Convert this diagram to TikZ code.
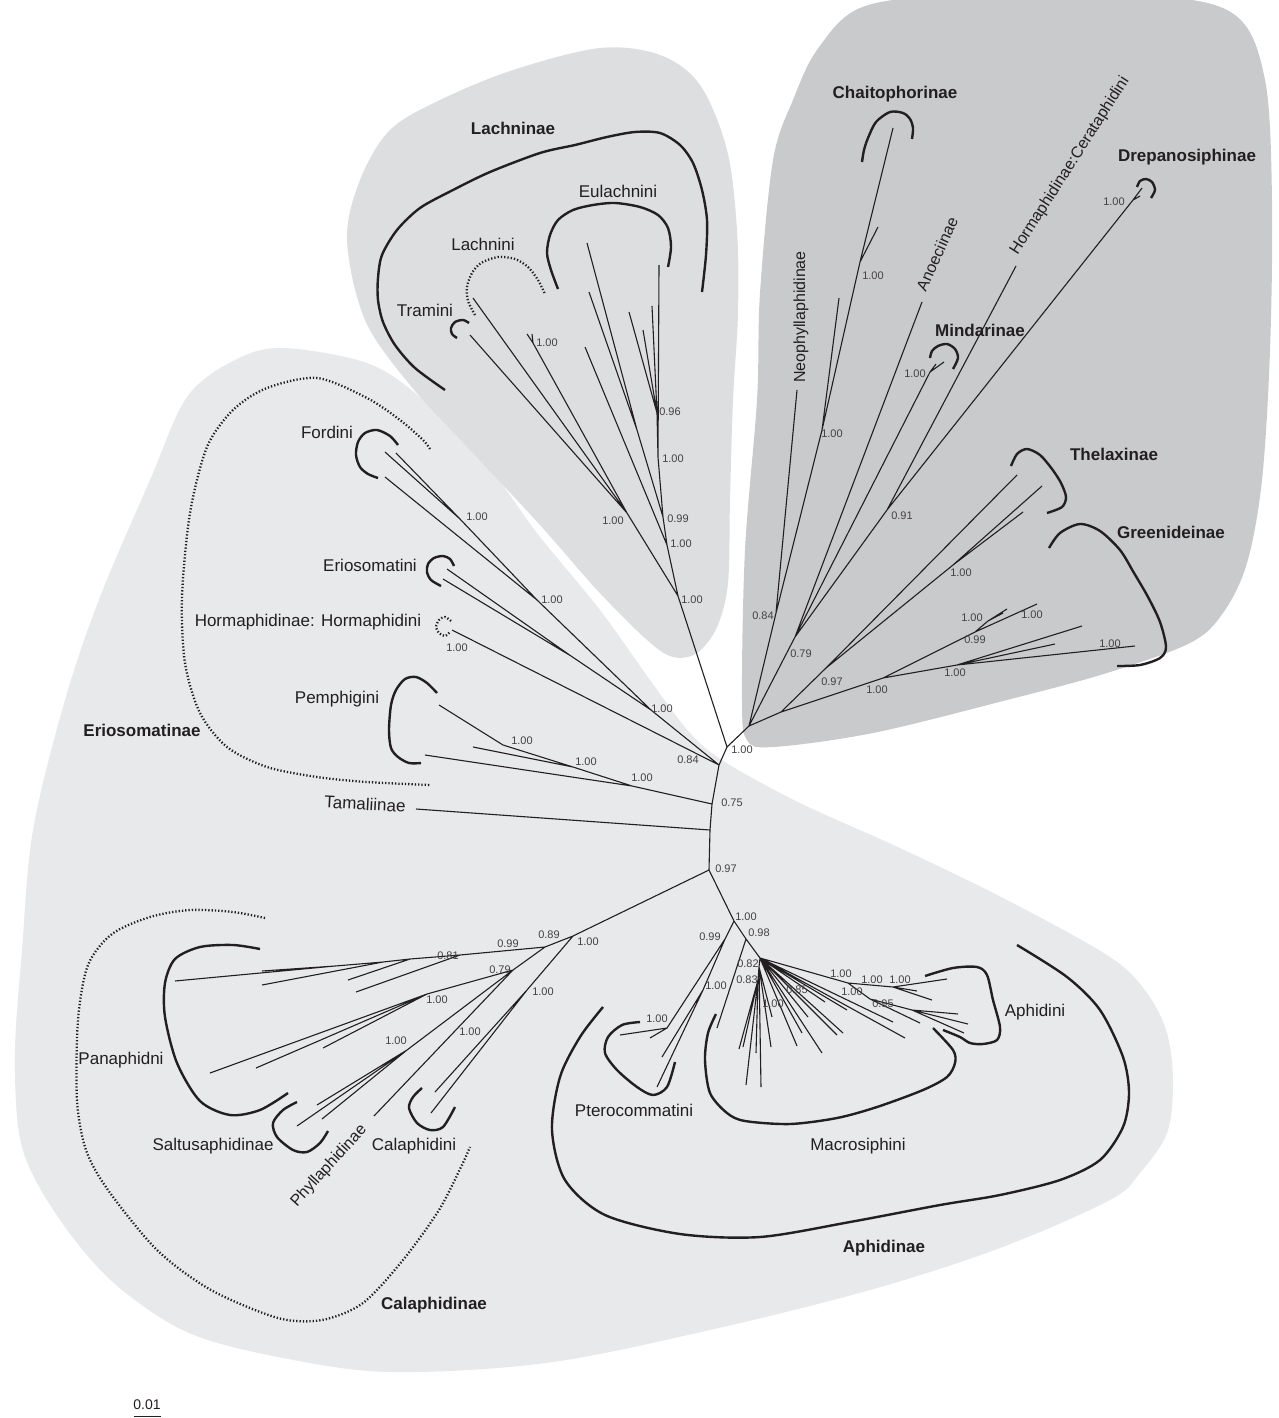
\documentclass[tikz,border=0pt]{standalone}
\usepackage{fontspec}
\setmainfont{Liberation Sans}
\definecolor{bigreg}{RGB}{232,233,235}
\definecolor{lachreg}{RGB}{221,222,224}
\definecolor{darkreg}{RGB}{201,202,204}
\definecolor{ink}{RGB}{35,31,32}
\begin{document}
\begin{tikzpicture}[x=1pt,y=-1pt,
  br/.style={line width=1.1pt, draw=ink},
  brk/.style={line width=2.4pt, draw=ink},
  dbrk/.style={line width=2.3pt, draw=ink, dash pattern=on 1.3pt off 2.0pt},
  lab/.style={inner sep=0pt, text=ink, font=\fontsize{17}{20}\selectfont},
  rlab/.style={inner sep=0pt, text=ink, font=\fontsize{16}{19}\selectfont},
  blab/.style={inner sep=0pt, text=ink, font=\fontsize{17}{20}\selectfont\bfseries},
  sv/.style={inner sep=0pt, text=ink!85, font=\fontsize{11}{13}\selectfont}]
\useasboundingbox (0,0) rectangle (1278,1418);

% ---------- background regions ----------
\fill[bigreg] plot[smooth cycle, tension=0.55] coordinates {
 (283,348) (367,363) (420,397) (480,455) (537,533) (600,610) (650,680) (690,733)
 (725,762) (800,803) (900,848) (1007,900) (1110,957) (1147,993) (1167,1033)
 (1173,1083) (1167,1133) (1140,1173) (1110,1200) (1000,1248) (870,1290) (710,1330)
 (546,1363) (389,1372) (278,1357) (189,1333) (122,1290) (77,1243) (37,1183)
 (19,1133) (15,1050) (22,950) (33,830) (65,700) (100,597) (150,480) (187,397) (235,360)};
\fill[lachreg] plot[smooth cycle, tension=0.55] coordinates {
 (347,240) (360,180) (390,130) (440,100) (513,70) (600,48) (660,55) (700,85)
 (727,150) (737,230) (738,313) (733,400) (730,500) (728,583) (717,627) (697,653)
 (673,657) (647,640) (597,590) (540,525) (470,450) (410,385) (365,320)};
\fill[darkreg] plot[smooth cycle, tension=0.55] coordinates {
 (757,400) (760,293) (773,160) (793,100) (817,50) (860,8) (950,-4) (1150,-4)
 (1235,15) (1265,80) (1272,200) (1270,350) (1262,480) (1247,563) (1223,613)
 (1190,643) (1107,673) (1007,700) (873,733) (773,747) (747,740) (742,700) (745,550)};

% ---------- tree coordinates ----------
\coordinate (A) at (727,747);
\coordinate (L0) at (678,596);
\coordinate (R0) at (749,726);
\coordinate (B) at (719,765);
\coordinate (V) at (712,804);
\coordinate (V2) at (710,830);
\coordinate (W) at (709,870);
% Lachninae
\coordinate (L1) at (667,545); \coordinate (L2) at (663,517);
\coordinate (L3) at (658,457); \coordinate (L4) at (657,413);
\coordinate (LT) at (627,513); \coordinate (LE) at (637,430);
\coordinate (LC) at (533,343);
\coordinate (tTram) at (470,335); \coordinate (tLach) at (473,298);
\coordinate (tLC1) at (527,334); \coordinate (tLC2) at (532,334);
\coordinate (tD) at (585,347); \coordinate (tE1) at (587,243);
\coordinate (tE2) at (589,292); \coordinate (tG1) at (629,312);
\coordinate (tG2) at (643,330); \coordinate (tG3) at (652,306);
\coordinate (tG4) at (659,265);
% right clade
\coordinate (N084) at (776,613); \coordinate (N2) at (822,430);
\coordinate (C1) at (860,262); \coordinate (N079) at (795,637);
\coordinate (M0) at (930,372); \coordinate (N091) at (887,510);
\coordinate (D0) at (1133,200); \coordinate (R1) at (781,712);
\coordinate (T0) at (826,668); \coordinate (T1) at (953,565);
\coordinate (G0) at (883,678); \coordinate (G1) at (975,632);
\coordinate (G1a) at (988,621); \coordinate (G2) at (957,665);
\coordinate (tNeo) at (797,390); \coordinate (tN2) at (839,298);
\coordinate (tC1) at (893,128); \coordinate (tC2) at (878,227);
\coordinate (tAno) at (922,302); \coordinate (tM1) at (944,362);
\coordinate (tM2) at (936,364); \coordinate (tCer) at (1016,266);
\coordinate (tD1) at (1142,188); \coordinate (tD2) at (1140,196);
\coordinate (tTh) at (1017,475); \coordinate (tT1) at (1042,486);
\coordinate (tT2) at (1023,512); \coordinate (tGa1) at (1007,609);
\coordinate (tGa2) at (1003,613); \coordinate (tGb) at (1037,604);
\coordinate (tG2a) at (1082,626); \coordinate (tG2b) at (1055,644);
\coordinate (tG2c) at (1135,646);
% Eriosomatinae
\coordinate (E1) at (651,710); \coordinate (EF) at (537,600);
\coordinate (EF1) at (460,519); \coordinate (EE) at (571,656);
\coordinate (P1) at (503,745); \coordinate (P2) at (573,767);
\coordinate (P3) at (632,786);
\coordinate (tF1) at (385,452); \coordinate (tF2) at (396,453);
\coordinate (tF3) at (385,477); \coordinate (tEr1) at (447,569);
\coordinate (tEr2) at (443,579); \coordinate (tHor) at (452,630);
\coordinate (tPa) at (439,705); \coordinate (tPb) at (473,747);
\coordinate (tPc) at (425,755); \coordinate (tTam) at (416,809);
% Calaphidinae
\coordinate (K0) at (573,936); \coordinate (K1) at (545,947);
\coordinate (K3) at (527,990); \coordinate (K4) at (513,970);
\coordinate (K5) at (427,994); \coordinate (K6) at (407,1050);
\coordinate (Q1) at (460,955); \coordinate (Q2) at (410,959);
\coordinate (Q4) at (383,962); \coordinate (Q3) at (335,966);
\coordinate (tPan) at (175,981); \coordinate (tPq1) at (356,992);
\coordinate (tPq2) at (348,980); \coordinate (tPq3) at (262,971);
\coordinate (tPq4) at (262,985);
\coordinate (tK5a) at (210,1073); \coordinate (tK5b) at (256,1068);
\coordinate (tK5c) at (323,1048);
\coordinate (tK6a) at (317,1105); \coordinate (tK6b) at (297,1126);
\coordinate (tK6c) at (322,1119); \coordinate (tPhy) at (374,1116);
\coordinate (tCal1) at (435,1092); \coordinate (tCal2) at (431,1113);
% Aphidinae
\coordinate (Y1) at (734,921); \coordinate (Pt0) at (725,939);
\coordinate (Pt1) at (667,1028); \coordinate (Pt2) at (703,990);
\coordinate (Y2) at (746,939); \coordinate (Y3) at (760,958);
\coordinate (M1) at (759,967); \coordinate (M2) at (758,980);
\coordinate (AP1) at (848,983); \coordinate (AP2) at (893,987);
\coordinate (AP3) at (870,999); \coordinate (AP4) at (912,1010);
\coordinate (tPt1a) at (620,1035); \coordinate (tPt1b) at (650,1038);
\coordinate (tPt2a) at (662,1057); \coordinate (tPt2b) at (657,1087);
\coordinate (tY2) at (717,1028);
\coordinate (tM1a) at (761,1087); \coordinate (tM1b) at (772,1017);
\coordinate (tM1c) at (771,1047); \coordinate (tM2a) at (746,1085);
\coordinate (tM2b) at (756,1053); \coordinate (tM2c) at (743,1047);
\coordinate (tM2d) at (739,1049);
\coordinate (tY3a) at (797,1046); \coordinate (tY3b) at (802,1033);
\coordinate (tY3c) at (808,1017); \coordinate (tY3d) at (822,1053);
\coordinate (tY3e) at (825,1002); \coordinate (tY3f) at (837,1035);
\coordinate (tY3g) at (843,1033); \coordinate (tY3h) at (847,1010);
\coordinate (tY3i) at (893,1022); \coordinate (tY3j) at (905,1038);
\coordinate (tA1) at (947,979); \coordinate (tA2) at (917,991);
\coordinate (tA3) at (932,1000); \coordinate (tA4) at (920,1023);
\coordinate (tA5) at (958,1014); \coordinate (tA6) at (968,1024);
\coordinate (tA7) at (964,1033);
% scale bar
\coordinate (sb1) at (134,1416); \coordinate (sb2) at (161,1416);

% ---------- branches ----------
\draw[br] (A)--(L0) (A)--(R0) (A)--(B) (B)--(V) (V)--(V2) (V2)--(W);
% Lachninae
\draw[br] (L0)--(LT) (L0)--(L1) (LT)--(tTram) (LT)--(tLach) (LT)--(LC)
 (LC)--(tLC1) (LC)--(tLC2) (L1)--(tD) (L1)--(L2) (L2)--(LE) (L2)--(L3)
 (LE)--(tE1) (LE)--(tE2) (L3)--(tG4) (L3)--(L4) (L4)--(tG1) (L4)--(tG2) (L4)--(tG3);
% right clade
\draw[br] (R0)--(N084) (N084)--(tNeo) (N084)--(N2) (N2)--(tN2) (N2)--(C1)
 (C1)--(tC1) (C1)--(tC2) (R0)--(N079) (N079)--(tAno) (N079)--(M0) (M0)--(tM1)
 (M0)--(tM2) (N079)--(N091) (N091)--(tCer) (N091)--(D0) (D0)--(tD1) (D0)--(tD2)
 (R0)--(R1) (R1)--(T0) (T0)--(tTh) (T0)--(T1) (T1)--(tT1) (T1)--(tT2)
 (R1)--(G0) (G0)--(G1) (G1)--(G1a) (G1a)--(tGa1) (G1a)--(tGa2) (G1)--(tGb)
 (G0)--(G2) (G2)--(tG2a) (G2)--(tG2b) (G2)--(tG2c);
% Eriosomatinae and Tamaliinae
\draw[br] (B)--(E1) (E1)--(EF) (EF)--(EF1) (EF1)--(tF1) (EF1)--(tF2) (EF)--(tF3)
 (E1)--(EE) (EE)--(tEr1) (EE)--(tEr2) (B)--(tHor)
 (V)--(P3) (P3)--(tPc) (P3)--(P2) (P2)--(tPb) (P2)--(P1) (P1)--(tPa)
 (V2)--(tTam);
% Calaphidinae
\draw[br] (W)--(K0) (K0)--(K1) (K0)--(K3) (K1)--(Q1) (Q1)--(Q2) (Q2)--(Q4)
 (Q4)--(Q3) (Q3)--(tPan) (Q1)--(tPq1) (Q2)--(tPq2) (Q3)--(tPq3) (Q4)--(tPq4)
 (K1)--(K4) (K4)--(K5) (K5)--(tK5a) (K5)--(tK5b) (K5)--(tK5c)
 (K4)--(K6) (K6)--(tK6a) (K6)--(tK6b) (K6)--(tK6c) (K4)--(tPhy)
 (K3)--(tCal1) (K3)--(tCal2);
% Aphidinae
\draw[br] (W)--(Y1) (Y1)--(Pt0) (Pt0)--(Pt1) (Pt1)--(tPt1a) (Pt1)--(tPt1b)
 (Pt0)--(Pt2) (Pt2)--(tPt2a) (Pt2)--(tPt2b) (Y1)--(Y2) (Y2)--(tY2) (Y2)--(Y3)
 (Y3)--(M1) (M1)--(tM1a) (M1)--(tM1b) (M1)--(tM1c) (M1)--(M2) (M2)--(tM2a)
 (M2)--(tM2b) (M2)--(tM2c) (M2)--(tM2d)
 (Y3)--(tY3a) (Y3)--(tY3b) (Y3)--(tY3c) (Y3)--(tY3d) (Y3)--(tY3e) (Y3)--(tY3f)
 (Y3)--(tY3g) (Y3)--(tY3h) (Y3)--(tY3i) (Y3)--(tY3j)
 (Y3)--(AP1) (AP1)--(AP2) (AP2)--(tA1) (AP2)--(tA2) (AP2)--(tA3)
 (AP1)--(AP3) (AP3)--(tA4) (AP3)--(AP4) (AP4)--(tA5) (AP4)--(tA6) (AP4)--(tA7);

% ---------- brackets ----------
% Lachninae
\draw[brk] plot[smooth] coordinates {(702,292) (706,255) (707,220) (702,190) (693,163)
 (680,145) (660,133) (635,132) (607,137) (575,145) (540,153) (490,172) (453,190)
 (420,208) (397,230) (382,255) (378,278) (378,300) (383,322) (395,345) (415,368) (445,390)};
\draw[brk] plot[smooth] coordinates {(558,289) (551,270) (547,253) (550,235) (558,220)
 (573,210) (593,205) (615,203) (640,207) (658,215) (668,228) (671,247) (668,267)};
\draw[dbrk] plot[smooth] coordinates {(475,315) (468,301) (467,287) (472,273) (481,263)
 (498,257) (515,259) (528,267) (538,280) (545,294)};
\draw[brk] plot[smooth] coordinates {(469,323) (463,320) (455,322) (451,328) (452,334) (457,338)};
% right clade
\draw[brk] plot[smooth] coordinates {(862,162) (864,150) (868,138) (876,122) (890,112)
 (903,113) (910,119) (913,128) (912,139)};
\draw[brk] plot[smooth] coordinates {(1137,187) (1140,181) (1146,179) (1152,182) (1155,190) (1151,198)};
\draw[brk] plot[smooth] coordinates {(930,358) (932,351) (938,346) (947,344) (955,349) (958,358) (953,369)};
\draw[brk] plot[smooth] coordinates {(1011,466) (1017,454) (1027,449) (1040,455) (1052,469)
 (1061,483) (1066,497) (1062,507) (1047,513)};
\draw[brk] plot[smooth] coordinates {(1049,548) (1060,533) (1080,524) (1100,531) (1120,550)
 (1134,573) (1148,597) (1160,622) (1166,647) (1160,658) (1140,665) (1117,666)};
% Eriosomatinae
\draw[brk] plot[smooth] coordinates {(398,445) (390,436) (377,430) (365,433) (358,442)
 (356,455) (360,467) (368,474) (378,478)};
\draw[brk] plot[smooth] coordinates {(454,566) (450,559) (443,556) (434,558) (428,564)
 (427,572) (431,580) (441,586)};
\draw[dbrk] plot[smooth] coordinates {(451,621) (445,617) (439,620) (436,627) (439,633) (445,636) (450,632)};
\draw[brk] plot[smooth] coordinates {(437,693) (427,683) (416,677) (405,679) (396,690)
 (391,705) (389,730) (391,748) (398,757) (409,763) (421,763)};
\draw[dbrk] plot[smooth] coordinates {(430,449) (423,440) (400,420) (367,398) (317,378)
 (267,388) (233,410) (207,447) (190,513) (182,597) (185,663) (200,713) (227,747)
 (267,767) (317,777) (367,782) (430,785)};
% Calaphidinae
\draw[brk] plot[smooth] coordinates {(260,949) (233,945) (200,947) (175,959) (165,983)
 (165,1017) (177,1063) (200,1101) (230,1115) (260,1110) (288,1093)};
\draw[brk] plot[smooth] coordinates {(297,1102) (283,1110) (273,1123) (277,1137) (293,1150)
 (307,1152) (320,1143) (328,1131)};
\draw[brk] plot[smooth] coordinates {(422,1088) (413,1097) (409,1108) (417,1123) (430,1130)
 (443,1127) (455,1107)};
\draw[dbrk] plot[smooth] coordinates {(265,918) (233,912) (190,910) (150,917) (112,934)
 (88,965) (78,1020) (77,1100) (86,1150) (108,1190) (157,1250) (211,1290) (278,1318)
 (322,1320) (363,1303) (403,1260) (439,1210) (461,1167) (470,1147)};
% Aphidinae
\draw[brk] plot[smooth] coordinates {(640,1022) (622,1025) (608,1037) (605,1053) (617,1070)
 (637,1087) (653,1095) (667,1087) (675,1062)};
\draw[brk] plot[smooth] coordinates {(925,976) (953,968) (977,967) (987,975) (993,1000)
 (1000,1027) (997,1040) (983,1044) (970,1043) (960,1037) (943,1030)};
\draw[brk] plot[smooth] coordinates {(716,1014) (708,1033) (705,1060) (710,1093) (727,1113)
 (745,1121) (790,1124) (837,1118) (877,1107) (923,1090) (947,1077) (955,1063) (953,1050) (933,1028)};
\draw[brk] plot[smooth] coordinates {(603,1007) (580,1037) (560,1077) (552,1130) (565,1180)
 (605,1215) (680,1234) (760,1237) (850,1222) (940,1205) (1000,1195) (1060,1180)
 (1100,1160) (1123,1127) (1129,1093) (1123,1057) (1100,1010) (1067,977) (1017,945)};

% scale bar
\draw[line width=1pt, draw=ink] (sb1)--(sb2);
\node[sv, font=\fontsize{14}{16}\selectfont, text=ink] (scale) at (147,1405) {0.01};

% ---------- clade labels ----------
\node[blab] (nLachninae) at (513,128) {Lachninae};
\node[lab] (nEulachnini) at (618,191) {Eulachnini};
\node[lab] (nLachnini) at (483,244) {Lachnini};
\node[lab] (nTramini) at (425,310) {Tramini};
\node[blab] (nChaito) at (895,94) {Chaitophorinae};
\node[blab] (nDrep) at (1187,157) {Drepanosiphinae};
\node[blab] (nMind) at (980,330) {Mindarinae};
\node[blab] (nThel) at (1114,454) {Thelaxinae};
\node[blab] (nGreen) at (1171,532) {Greenideinae};
\node[rlab, rotate=90] (nNeo) at (801,317) {Neophyllaphidinae};
\node[rlab, rotate=65.7] (nAno) at (937,254) {Anoeciinae};
\node[rlab, rotate=57.4] (nCer) at (1070,166) {Hormaphidinae:Cerataphidini};
\node[lab] (nFordini) at (327,432) {Fordini};
\node[lab] (nErini) at (370,565) {Eriosomatini};
\node[lab] (nHormini) at (308,622) {Hormaphidinae: Hormaphidini};
\node[lab] (nPemph) at (337,699) {Pemphigini};
\node[blab] (nErinae) at (142,730) {Eriosomatinae};
\node[lab, rotate=-3] (nTam) at (365,804) {Tamaliinae};
\node[lab] (nPan) at (121,1060) {Panaphidni};
\node[lab] (nSalt) at (213,1146) {Saltusaphidinae};
\node[rlab, rotate=47.7] (nPhyl) at (329,1166) {Phyllaphidinae};
\node[lab] (nCalini) at (414,1146) {Calaphidini};
\node[blab] (nCalinae) at (434,1305) {Calaphidinae};
\node[lab] (nPtero) at (634,1110) {Pterocommatini};
\node[lab] (nMacro) at (858,1146) {Macrosiphini};
\node[lab] (nAphini) at (1035,1012) {Aphidini};
\node[blab] (nAphinae) at (884,1248) {Aphidinae};

% ---------- support values ----------
\node[sv] (s1) at (547,343) {1.00};
\node[sv] (s2) at (670,412) {0.96};
\node[sv] (s3) at (673,459) {1.00};
\node[sv] (s4) at (613,521) {1.00};
\node[sv] (s5) at (678,519) {0.99};
\node[sv] (s6) at (681,544) {1.00};
\node[sv] (s7) at (692,600) {1.00};
\node[sv] (s8) at (873,276) {1.00};
\node[sv] (s9) at (1114,202) {1.00};
\node[sv] (s10) at (915,374) {1.00};
\node[sv] (s11) at (832,434) {1.00};
\node[sv] (s12) at (902,516) {0.91};
\node[sv] (s13) at (961,573) {1.00};
\node[sv] (s14) at (763,616) {0.84};
\node[sv] (s15) at (801,654) {0.79};
\node[sv] (s16) at (832,682) {0.97};
\node[sv] (s17) at (877,690) {1.00};
\node[sv] (s18) at (972,618) {1.00};
\node[sv] (s19) at (1032,615) {1.00};
\node[sv] (s20) at (975,640) {0.99};
\node[sv] (s21) at (955,673) {1.00};
\node[sv] (s22) at (1110,644) {1.00};
\node[sv] (s23) at (742,750) {1.00};
\node[sv] (s24) at (477,517) {1.00};
\node[sv] (s25) at (552,600) {1.00};
\node[sv] (s26) at (457,648) {1.00};
\node[sv] (s27) at (662,709) {1.00};
\node[sv] (s28) at (522,741) {1.00};
\node[sv] (s29) at (586,762) {1.00};
\node[sv] (s30) at (642,778) {1.00};
\node[sv] (s31) at (688,760) {0.84};
\node[sv] (s32) at (732,803) {0.75};
\node[sv] (s33) at (726,869) {0.97};
\node[sv] (s34) at (549,935) {0.89};
\node[sv] (s35) at (588,942) {1.00};
\node[sv] (s36) at (508,944) {0.99};
\node[sv] (s37) at (448,956) {0.81};
\node[sv] (s38) at (500,970) {0.79};
\node[sv] (s39) at (437,1000) {1.00};
\node[sv] (s40) at (543,992) {1.00};
\node[sv] (s41) at (396,1041) {1.00};
\node[sv] (s42) at (470,1032) {1.00};
\node[sv] (s43) at (746,917) {1.00};
\node[sv] (s44) at (710,937) {0.99};
\node[sv] (s45) at (759,933) {0.98};
\node[sv] (s46) at (748,964) {0.82};
\node[sv] (s47) at (747,980) {0.83};
\node[sv] (s48) at (716,986) {1.00};
\node[sv] (s49) at (657,1019) {1.00};
\node[sv] (s50) at (773,1004) {1.00};
\node[sv] (s51) at (797,990) {0.85};
\node[sv] (s52) at (841,974) {1.00};
\node[sv] (s53) at (872,980) {1.00};
\node[sv] (s54) at (900,980) {1.00};
\node[sv] (s55) at (852,992) {1.00};
\node[sv] (s56) at (883,1004) {0.95};
\end{tikzpicture}
\end{document}
